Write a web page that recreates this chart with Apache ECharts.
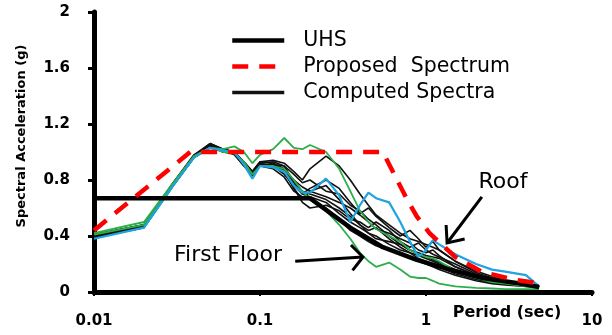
<!DOCTYPE html>
<html><head><meta charset="utf-8">
<script src="https://cdn.jsdelivr.net/npm/echarts@6/dist/echarts.min.js"></script>
<style>html,body{margin:0;padding:0;background:#fff}#c{width:612px;height:335px}</style>
</head><body><div id="c"></div>
<script>
const periods = [0.01,0.02,0.03,0.04,0.05,0.06,0.07,0.08,0.09,0.1,0.12,0.14,0.16,0.18,0.2,0.25,0.3,0.35,0.4,0.45,0.5,0.6,0.7,0.8,0.9,1.0,1.1,1.2,1.5,2,2.5,3,4,4.8];

const roofBlue =        [0.38,0.46,0.76,0.96,1.03,1.01,1.0,0.91,0.81,0.9,0.89,0.86,0.76,0.71,0.71,0.81,0.69,0.5,0.62,0.71,0.67,0.64,0.5,0.36,0.25,0.3,0.37,0.34,0.27,0.2,0.16,0.145,0.12,0.04];
const greenHigh =       [0.42,0.5,0.78,0.97,1.03,1.02,1.04,1.0,0.92,0.98,1.02,1.1,1.03,1.02,1.05,1.0,0.88,0.72,0.58,0.5,0.45,0.4,0.36,0.3,0.27,0.25,0.24,0.22,0.15,0.1,0.07,0.06,0.04,0.03];
const firstFloorGreen = [0.41,0.48,0.77,0.97,1.03,1.0,0.99,0.93,0.84,0.9,0.9,0.88,0.8,0.72,0.66,0.58,0.48,0.38,0.28,0.22,0.18,0.21,0.16,0.11,0.1,0.1,0.08,0.06,0.04,0.03,0.025,0.02,0.02,0.02];

const black1 = [0.40,0.47,0.77,0.97,1.06,1.02,1.0,0.93,0.86,0.93,0.94,0.92,0.86,0.8,0.88,0.97,0.9,0.8,0.7,0.62,0.55,0.48,0.42,0.38,0.36,0.34,0.32,0.3,0.22,0.14,0.1,0.07,0.05,0.035];
const black2 = [0.39,0.46,0.76,0.96,1.04,1.01,0.99,0.91,0.84,0.9,0.91,0.9,0.78,0.7,0.74,0.8,0.74,0.64,0.56,0.6,0.54,0.46,0.4,0.44,0.38,0.32,0.36,0.3,0.22,0.15,0.11,0.08,0.05,0.035];
const black3 = [0.40,0.47,0.77,0.97,1.05,1.02,1.0,0.92,0.86,0.92,0.9,0.86,0.74,0.64,0.6,0.62,0.58,0.52,0.5,0.46,0.5,0.44,0.36,0.32,0.35,0.3,0.27,0.25,0.2,0.13,0.09,0.07,0.05,0.035];
const black4 = [0.41,0.48,0.78,0.97,1.05,1.0,0.99,0.9,0.83,0.9,0.92,0.88,0.8,0.75,0.72,0.68,0.64,0.6,0.55,0.5,0.45,0.42,0.38,0.35,0.3,0.28,0.3,0.26,0.18,0.12,0.09,0.07,0.05,0.035];
const black5 = [0.40,0.47,0.76,0.96,1.03,1.01,0.98,0.9,0.85,0.91,0.9,0.84,0.76,0.7,0.68,0.64,0.56,0.5,0.46,0.42,0.4,0.34,0.3,0.28,0.26,0.24,0.22,0.2,0.15,0.1,0.08,0.06,0.045,0.035];
const black6 = [0.39,0.46,0.76,0.96,1.04,1.0,0.99,0.92,0.85,0.9,0.88,0.82,0.72,0.68,0.66,0.6,0.52,0.44,0.4,0.36,0.33,0.3,0.27,0.24,0.22,0.2,0.18,0.16,0.12,0.08,0.06,0.05,0.04,0.03];
const black7 = [0.40,0.47,0.77,0.97,1.05,1.01,1.0,0.91,0.84,0.92,0.93,0.9,0.84,0.78,0.8,0.72,0.7,0.62,0.58,0.52,0.48,0.4,0.34,0.3,0.28,0.26,0.25,0.24,0.18,0.12,0.09,0.07,0.05,0.035];
const black8 = [0.40,0.47,0.77,0.97,1.04,1.02,1.0,0.92,0.85,0.91,0.91,0.87,0.78,0.72,0.7,0.66,0.6,0.54,0.48,0.44,0.46,0.38,0.32,0.28,0.24,0.22,0.2,0.18,0.13,0.09,0.07,0.055,0.045,0.035];
const black9 = [0.41,0.48,0.78,0.98,1.06,1.02,1.0,0.93,0.86,0.93,0.92,0.86,0.74,0.66,0.72,0.76,0.66,0.56,0.48,0.42,0.38,0.36,0.34,0.3,0.27,0.25,0.23,0.21,0.16,0.11,0.08,0.06,0.045,0.035];

const uhsPeriods = [0.01,0.2,0.35,0.55,0.88,1.39,2.2,3.5,4.8];
const uhsValues  = [0.67,0.67,0.46,0.32,0.23,0.16,0.1,0.065,0.036];

const proposedPeriods = [0.01,0.038,0.55,0.67,0.77,0.88,1.05,1.5,2.2,3.5,4.6];
const proposedValues  = [0.44,1.0,1.0,0.8,0.66,0.54,0.42,0.25,0.14,0.086,0.065];

const xTickLabels = ['0.01','0.1','1','10'];
const yTickLabels = ['0','0.4','0.8','1.2','1.6','2'];

const zip = (xs, ys) => xs.map((x, i) => [x, ys[i]]);
const chart = echarts.init(document.getElementById('c'));

const blacks = [black1,black2,black3,black4,black5,black6,black7,black8,black9];
const series = [];
blacks.forEach(b => series.push({
  name: 'Computed Spectra', type: 'line', data: zip(periods, b), symbol: 'none', showSymbol: false,
  lineStyle: {color: '#111', width: 1.6}, itemStyle: {color: '#111'}, z: 2
}));
[greenHigh, firstFloorGreen].forEach(g => series.push({
  name: 'Computed Spectra', type: 'line', data: zip(periods, g), symbol: 'none', showSymbol: false,
  lineStyle: {color: '#2cae4a', width: 1.8}, itemStyle: {color: '#2cae4a'}, z: 3
}));
series.push({
  name: 'Computed Spectra', type: 'line', data: zip(periods, roofBlue), symbol: 'none', showSymbol: false,
  lineStyle: {color: '#1ea4e0', width: 2.2}, itemStyle: {color: '#1ea4e0'}, z: 4
});
series.push({
  name: 'UHS', type: 'line', data: zip(uhsPeriods, uhsValues), symbol: 'none', showSymbol: false,
  lineStyle: {color: '#000', width: 4.5}, itemStyle: {color: '#000'}, z: 5
});
series.push({
  name: 'Proposed  Spectrum', type: 'line', data: zip(proposedPeriods, proposedValues), symbol: 'none', showSymbol: false,
  lineStyle: {color: '#ff0000', width: 4.5, type: [16, 11]}, itemStyle: {color: '#ff0000'}, z: 6
});

chart.setOption({
  animation: false,
  backgroundColor: '#fff',
  grid: {left: 94, right: 20, top: 12, bottom: 43},
  legend: {
    data: [
      {name: 'UHS', lineStyle: {width: 4.5}},
      {name: 'Proposed  Spectrum', lineStyle: {width: 4.5}},
      {name: 'Computed Spectra', lineStyle: {width: 3.5}}
    ],
    orient: 'vertical', left: 230, top: 30, padding: 0, itemWidth: 52, itemHeight: 14, itemGap: 5,
    itemStyle: {opacity: 0},
    textStyle: {fontFamily: 'DejaVu Sans', fontSize: 20.5, color: '#000', padding: [0, 0, 0, 14], lineHeight: 21},
    selectedMode: false
  },
  xAxis: {
    type: 'log', logBase: 10, min: 0.01, max: 10,
    axisLine: {show: true, onZero: false, lineStyle: {color: '#000', width: 5}},
    axisTick: {show: true, length: 4, lineStyle: {color: '#000', width: 2}},
    minorTick: {show: false}, splitLine: {show: false},
    axisLabel: {margin: 22, color: '#000', fontFamily: 'DejaVu Sans', fontWeight: 'bold', fontSize: 15,
      formatter: (v, i) => xTickLabels[i]}
  },
  yAxis: {
    type: 'value', min: 0, max: 2, interval: 0.4,
    axisLine: {show: true, onZero: false, lineStyle: {color: '#000', width: 5}},
    axisTick: {show: true, length: 6, lineStyle: {color: '#000', width: 3}},
    splitLine: {show: false},
    axisLabel: {margin: 24, color: '#000', fontFamily: 'DejaVu Sans', fontWeight: 'bold', fontSize: 15,
      formatter: (v, i) => yTickLabels[i]}
  },
  series: series
});

function arrow(from, to, armLen, armAng) {
  const p0 = chart.convertToPixel({gridIndex: 0}, from);
  const p1 = chart.convertToPixel({gridIndex: 0}, to);
  const a = Math.atan2(p0[1] - p1[1], p0[0] - p1[0]);
  const h1 = [p1[0] + armLen * Math.cos(a + armAng), p1[1] + armLen * Math.sin(a + armAng)];
  const h2 = [p1[0] + armLen * Math.cos(a - armAng), p1[1] + armLen * Math.sin(a - armAng)];
  return [
    {type: 'polyline', shape: {points: [p0, p1]}, style: {stroke: '#000', lineWidth: 3, fill: null}, z: 100},
    {type: 'polyline', shape: {points: [h1, p1, h2]}, style: {stroke: '#000', lineWidth: 3, fill: null}, z: 100}
  ];
}

const g = [
  {type: 'text', x: 22, y: 136, rotation: Math.PI / 2,
   style: {text: 'Spectral Acceleration (g)', font: 'bold 13px "DejaVu Sans"', fill: '#000', align: 'center', verticalAlign: 'middle'}},
  {type: 'text', x: 507, y: 313,
   style: {text: 'Period (sec)', font: 'bold 16px "DejaVu Sans"', fill: '#000', align: 'center', verticalAlign: 'middle'}},
  {type: 'text', x: 503, y: 182,
   style: {text: 'Roof', font: '22px "DejaVu Sans"', fill: '#000', align: 'center', verticalAlign: 'middle'}},
  {type: 'text', x: 228, y: 255,
   style: {text: 'First Floor', font: '22px "DejaVu Sans"', fill: '#000', align: 'center', verticalAlign: 'middle'}}
].concat(arrow([2.17, 0.68], [1.34, 0.35], 18, 0.7), arrow([0.163, 0.22], [0.417, 0.25], 17, 0.85));

chart.setOption({graphic: g});
</script>
</body></html>
